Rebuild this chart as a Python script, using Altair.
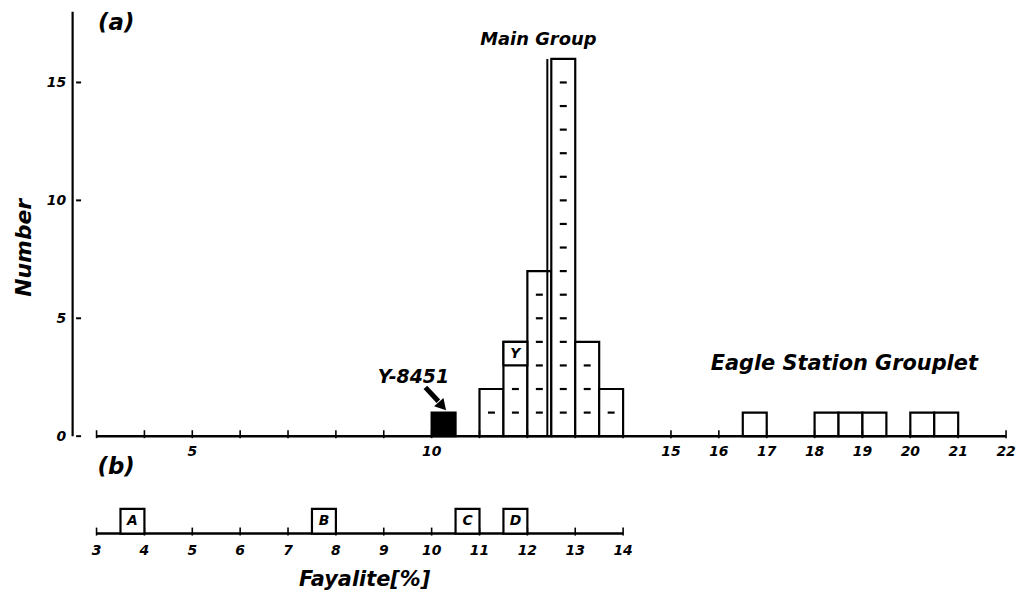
import altair as alt
import pandas as pd

# ---------------- data ----------------
bin_start = [10.0, 11.0, 11.5, 12.0, 12.5, 13.0, 13.5, 16.5, 18.0, 18.5, 19.0, 20.0, 20.5]
counts    = [1, 2, 4, 7, 16, 4, 2, 1, 1, 1, 1, 1, 1]
groups    = ["Y-8451", "Main", "Main", "Main", "Main", "Main", "Main",
             "Eagle", "Eagle", "Eagle", "Eagle", "Eagle", "Eagle"]
BIN_W = 0.5

# sample "Y" occupies the top unit of the 11.5-12 bin
y_marker_bin = 11.5
y_marker_level = 3

# panel (b) samples
b_labels = ["A", "B", "C", "D"]
b_bins = [3.5, 7.5, 10.5, 11.5]

top_ticks = list(range(3, 23))
top_tick_labels = [5, 10, 15, 16, 17, 18, 19, 20, 21, 22]
bottom_ticks = list(range(3, 15))
y_ticks = [0, 5, 10, 15]

# ---------------- layout constants ----------------
XD = [2.5, 22]
YD = [-6.366, 18]
PANEL_B = -4.13
FONT = "DejaVu Sans"

xs = alt.Scale(domain=XD, nice=False, zero=False)
ys = alt.Scale(domain=YD, nice=False, zero=False)
YAX = alt.Axis(values=y_ticks, domain=False, ticks=False, grid=False,
               labelFont=FONT, labelFontWeight="bold", labelFontStyle="italic",
               labelFontSize=14, labelColor="black", labelPadding=7,
               title="Number", titleFont=FONT, titleFontWeight="bold",
               titleFontStyle="italic", titleFontSize=22, titleColor="black",
               titlePadding=11, titleY=237)


def X(f):
    return alt.X(f, scale=xs, axis=None)


def Y(f):
    return alt.Y(f, scale=ys, axis=YAX)


bars = pd.DataFrame({
    "x0": bin_start,
    "x1": [b + BIN_W for b in bin_start],
    "y0": [0] * len(counts),
    "n": counts,
    "g": groups,
})

dash_rows = []
for b, n, g in zip(bin_start, counts, groups):
    if g == "Y-8451":
        continue
    for lvl in range(1, n):
        if b == y_marker_bin and lvl >= y_marker_level:
            continue
        dash_rows.append({"x": b + BIN_W / 2, "y": lvl})
dashes = pd.DataFrame(dash_rows)

ymark = pd.DataFrame({"x0": [y_marker_bin], "x1": [y_marker_bin + BIN_W],
                      "y0": [y_marker_level], "y1": [y_marker_level + 1],
                      "t": ["Y"], "xc": [y_marker_bin + BIN_W / 2],
                      "yc": [y_marker_level + 0.5]})

rects = alt.Chart(bars).mark_rect(stroke="black", strokeWidth=2.2).encode(
    x=X("x0:Q"), x2="x1:Q", y=Y("y0:Q"), y2="n:Q",
    fill=alt.Fill("g:N", scale=alt.Scale(domain=["Y-8451", "Main", "Eagle"],
                                          range=["black", "white", "white"]), legend=None),
)

# divider beside the tallest bar
tallest = bars[bars["n"] == bars["n"].max()]
divider = alt.Chart(tallest).mark_rule(color="black", strokeWidth=2, xOffset=-4).encode(
    x=X("x0:Q"), y=Y("y0:Q"), y2="n:Q")

dash_marks = alt.Chart(dashes).mark_tick(orient="horizontal", color="black", size=7,
                                         thickness=2.2, opacity=1).encode(x=X("x:Q"), y=Y("y:Q"))

ybox = alt.Chart(ymark).mark_rect(fill="white", stroke="black", strokeWidth=2.2).encode(
    x=X("x0:Q"), x2="x1:Q", y=Y("y0:Q"), y2="y1:Q")
ytext = alt.Chart(ymark).mark_text(font=FONT, fontWeight="bold", fontStyle="italic",
                                   fontSize=14, color="black").encode(
    x=X("xc:Q"), y=Y("yc:Q"), text="t:N")

# axes of panel (a) and (b)
lines = pd.DataFrame({"x0": [top_ticks[0], bottom_ticks[0]],
                      "x1": [top_ticks[-1], bottom_ticks[-1]],
                      "y": [0, PANEL_B]})
baselines = alt.Chart(lines).mark_rule(color="black", strokeWidth=2.5).encode(
    x=X("x0:Q"), x2="x1:Q", y=Y("y:Q"))

tk = pd.DataFrame({"x": top_ticks + bottom_ticks,
                   "y": [0] * len(top_ticks) + [PANEL_B] * len(bottom_ticks)})
tick_marks = alt.Chart(tk).mark_tick(orient="vertical", color="black", size=8, thickness=1.6,
                                     yOffset=-2, opacity=1).encode(x=X("x:Q"), y=Y("y:Q"))

tl_top = pd.DataFrame({"x": top_tick_labels, "y": [0] * len(top_tick_labels),
                       "t": [str(v) for v in top_tick_labels]})
tl_bot = pd.DataFrame({"x": bottom_ticks, "y": [PANEL_B] * len(bottom_ticks),
                       "t": [str(v) for v in bottom_ticks]})
tick_labels_top = alt.Chart(tl_top).mark_text(font=FONT, fontWeight="bold", fontStyle="italic",
                                              fontSize=14, color="black", dy=16).encode(
    x=X("x:Q"), y=Y("y:Q"), text="t:N")
tick_labels_bot = alt.Chart(tl_bot).mark_text(font=FONT, fontWeight="bold", fontStyle="italic",
                                              fontSize=14, color="black", dy=18).encode(
    x=X("x:Q"), y=Y("y:Q"), text="t:N")

# y-axis line and inner ticks
yaxis_line = alt.Chart(pd.DataFrame({"x": [XD[0]], "y0": [0], "y1": [YD[1]]})).mark_rule(
    color="black", strokeWidth=2.2).encode(x=X("x:Q"), y=Y("y0:Q"), y2="y1:Q")
yt = pd.DataFrame({"x": [XD[0]] * len(y_ticks), "y": y_ticks})
yaxis_ticks = alt.Chart(yt).mark_tick(orient="horizontal", color="black", size=5, thickness=2,
                                      xOffset=6, opacity=1).encode(x=X("x:Q"), y=Y("y:Q"))

# panel (b) boxes
bb = pd.DataFrame({"x0": b_bins, "x1": [b + BIN_W for b in b_bins],
                   "y0": [PANEL_B] * 4, "y1": [PANEL_B + 1.05] * 4,
                   "xc": [b + BIN_W / 2 for b in b_bins], "yc": [PANEL_B + 0.52] * 4,
                   "t": b_labels})
bboxes = alt.Chart(bb).mark_rect(fill="white", stroke="black", strokeWidth=2.2).encode(
    x=X("x0:Q"), x2="x1:Q", y=Y("y0:Q"), y2="y1:Q")
btext = alt.Chart(bb).mark_text(font=FONT, fontWeight="bold", fontStyle="italic",
                                fontSize=14, color="black").encode(
    x=X("xc:Q"), y=Y("yc:Q"), text="t:N")

# annotations
ann = pd.DataFrame({
    "t": ["(a)", "(b)", "Main Group", "Eagle Station Grouplet", "Y-8451", "Fayalite[%]"],
    "x": [3.41, 3.41, 12.23, 18.62, 9.62, 8.6],
    "y": [17.5, -1.3, 16.82, 3.08, 2.49, -6.11],
    "s": [23, 23, 18, 21, 19, 21],
})
ann_text = alt.Chart(ann).mark_text(font=FONT, fontWeight="bold", fontStyle="italic",
                                    color="black").encode(
    x=X("x:Q"), y=Y("y:Q"), text="t:N",
    size=alt.Size("s:Q", scale=None, legend=None))

# arrow pointing to Y-8451
arrow_shaft = alt.Chart(pd.DataFrame({"x0": [9.87], "y0": [2.07], "x1": [10.14], "y1": [1.48]})
                        ).mark_rule(color="black", strokeWidth=5).encode(
    x=X("x0:Q"), y=Y("y0:Q"), x2="x1:Q", y2="y1:Q")
arrow_head = alt.Chart(pd.DataFrame({"x": [10.2], "y": [1.33]})).mark_point(
    shape="triangle", angle=138, size=160, filled=True, color="black", opacity=1).encode(
    x=X("x:Q"), y=Y("y:Q"))

chart = alt.layer(
    rects, divider, dash_marks, ybox, ytext, baselines, tick_marks, tick_labels_top,
    tick_labels_bot, yaxis_line, yaxis_ticks, bboxes, btext, ann_text, arrow_shaft, arrow_head,
).properties(
    width=939, height=578,
    autosize=alt.AutoSizeParams(type="none"),
    padding={"left": 65, "top": 2, "right": 10, "bottom": 6},
    background="white",
).configure_view(stroke=None)

chart.save("out.html", embed_options={"renderer": "svg", "actions": False})
